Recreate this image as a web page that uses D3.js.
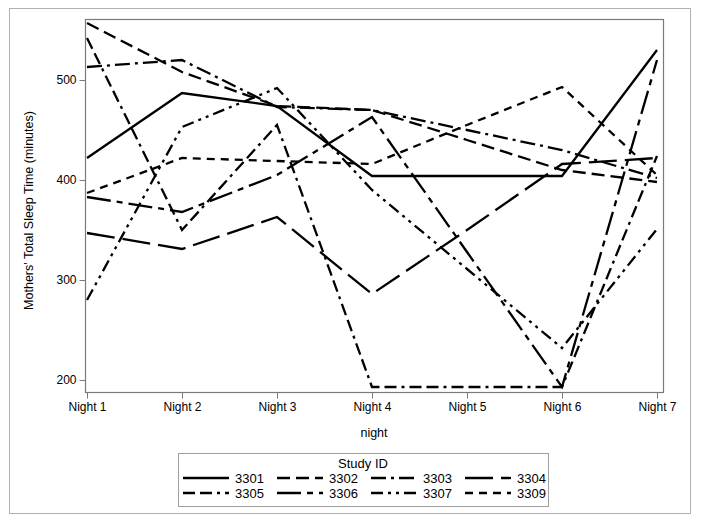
<!DOCTYPE html>
<html>
<head>
<meta charset="utf-8">
<script src="https://cdn.jsdelivr.net/npm/d3@7/dist/d3.min.js"></script>
<style>
  html, body { margin: 0; padding: 0; background: #fff; }
  svg { display: block; }
  text { font-family: "Liberation Sans", Arial, sans-serif; fill: #000; }
</style>
</head>
<body>
<svg id="chart" width="703" height="521"></svg>
<script>
const nights = ["Night 1", "Night 2", "Night 3", "Night 4", "Night 5", "Night 6", "Night 7"];
const studyIds = ["3301", "3302", "3303", "3304", "3305", "3306", "3307", "3309"];
const s3301 = [422, 487, 474, 404, 404, 404, 530];
const s3302 = [557, 508, 474, 470, 440, 410, 398];
const s3303 = [513, 520, 473, 470, 450, 430, 402];
const s3304 = [347, 331, 363, 286, 350, 416, 422];
const s3305 = [542, 350, 455, 193, 193, 193, 424];
const s3306 = [383, 368, 405, 463, 328, 193, 520];
const s3307 = [280, 453, 492, 390, 311, 232, 351];
const s3309 = [387, 422, 419, 416, 455, 493, 405];
const yTicks = [200, 300, 400, 500];

const seriesValues = [s3301, s3302, s3303, s3304, s3305, s3306, s3307, s3309];
const dashes = ["none", "13,6", "15,5,3,5", "28,8", "12,5,12,5,3,5", "24,6,6,6", "12,5,3,5,3,5", "8,6"];

const svg = d3.select("#chart");

// outer border
svg.append("rect").attr("x", 9.5).attr("y", 8.5).attr("width", 681).attr("height", 505)
  .attr("fill", "none").attr("stroke", "#b0b0b0").attr("stroke-width", 1);

const plot = {left: 85, right: 663, top: 19, bottom: 392};
const x = d3.scalePoint().domain(nights).range([87, 657]);
const y = d3.scaleLinear().domain([188, 561]).range([plot.bottom, plot.top]);

// lines
const line = d3.line().x((d, i) => x(nights[i])).y(d => y(d));
const g = svg.append("g");
seriesValues.forEach((vals, k) => {
  g.append("path").datum(vals).attr("d", line)
    .attr("fill", "none").attr("stroke", "#000").attr("stroke-width", 2.3)
    .attr("stroke-linejoin", "miter")
    .attr("stroke-dasharray", dashes[k]);
});

// frame
svg.append("rect").attr("x", plot.left + 0.5).attr("y", plot.top + 0.5)
  .attr("width", plot.right - plot.left).attr("height", plot.bottom - plot.top)
  .attr("fill", "none").attr("stroke", "#7a7a7a").attr("stroke-width", 1.2);

// axes
const yAxis = d3.axisLeft(y).tickValues(yTicks).tickSize(6).tickPadding(3);
const ya = svg.append("g").attr("transform", `translate(${plot.left + 0.5},0)`).call(yAxis);
ya.select(".domain").remove();
ya.selectAll(".tick line").attr("stroke", "#7a7a7a");
ya.selectAll(".tick text").attr("font-size", 12).attr("font-family", "Liberation Sans, Arial, sans-serif").attr("fill", "#000");

const xAxis = d3.axisBottom(x).tickSize(6).tickPadding(4);
const xa = svg.append("g").attr("transform", `translate(0,${plot.bottom + 0.5})`).call(xAxis);
xa.select(".domain").remove();
xa.selectAll(".tick line").attr("stroke", "#7a7a7a");
xa.selectAll(".tick text").attr("font-size", 12).attr("font-family", "Liberation Sans, Arial, sans-serif").attr("fill", "#000");

// axis titles
svg.append("text").attr("x", (plot.left + plot.right) / 2).attr("y", 437)
  .attr("text-anchor", "middle").attr("font-size", 12.5).text("night");
svg.append("text").attr("transform", `translate(33,${(plot.top + plot.bottom) / 2 + 5}) rotate(-90)`)
  .attr("text-anchor", "middle").attr("font-size", 12.5).text("Mothers' Total Sleep Time (minutes)");

// legend
const lg = {x: 178, y: 453, w: 370, h: 53};
svg.append("rect").attr("x", lg.x + 0.5).attr("y", lg.y + 0.5).attr("width", lg.w).attr("height", lg.h)
  .attr("fill", "none").attr("stroke", "#a0a0a0").attr("stroke-width", 1);
svg.append("text").attr("x", lg.x + lg.w / 2).attr("y", lg.y + 15)
  .attr("text-anchor", "middle").attr("font-size", 13).text("Study ID");
studyIds.forEach((id, k) => {
  const col = k % 4, row = Math.floor(k / 4);
  const sx = 183 + col * 94, sy = lg.y + 25 + row * 15;
  svg.append("line").attr("x1", sx).attr("x2", sx + 46).attr("y1", sy).attr("y2", sy)
    .attr("stroke", "#000").attr("stroke-width", 2.3).attr("stroke-dasharray", dashes[k]);
  svg.append("text").attr("x", sx + 52).attr("y", sy + 4.5).attr("font-size", 13).text(id);
});
</script>
</body>
</html>
